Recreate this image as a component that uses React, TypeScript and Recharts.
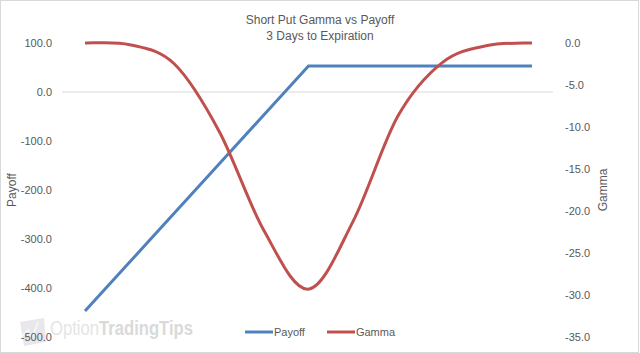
import React from "react";
import {
  ComposedChart,
  Line,
  XAxis,
  YAxis,
  ReferenceLine,
  Legend,
  Customized,
} from "recharts";

const strikes = [55, 56, 57, 58, 59, 60, 61, 62, 63, 64, 65];
const payoff = [-447, -347, -247, -147, -47, 53, 53, 53, 53, 53, 53];
const gamma = [0, -0.2, -2.5, -10.5, -22.3, -29.3, -21.2, -8.7, -2.3, -0.3, 0];

const leftTicks = [-500, -400, -300, -200, -100, 0, 100];
const rightTicks = [-35, -30, -25, -20, -15, -10, -5, 0];

const titleLines = ["Short Put Gamma vs Payoff", "3 Days to Expiration"];

const data = strikes.map((s, i) => ({ strike: s, Payoff: payoff[i], Gamma: gamma[i] }));

const W = 640;
const H = 353;
const MARGIN = { top: 43, right: 0, bottom: 16, left: 0 };
const PLOT_H = H - MARGIN.top - MARGIN.bottom;
const LEFT_MIN = -500;
const LEFT_MAX = 100;
const zeroY = MARGIN.top + (PLOT_H * (LEFT_MAX - 0)) / (LEFT_MAX - LEFT_MIN);

const FONT = "'Liberation Sans', Arial, sans-serif";
const TEXT = "#595959";
const BLUE = "#4f81bd";
const RED = "#c0504d";

// Excel-like smoothed line (uniform Catmull-Rom as cubic Bezier)
const smoothCurve: any = (context: any) => {
  let pts: number[][] = [];
  return {
    areaStart() {},
    areaEnd() {},
    lineStart() {
      pts = [];
    },
    point(x: number, y: number) {
      pts.push([+x, +y]);
    },
    lineEnd() {
      if (!pts.length) return;
      context.moveTo(pts[0][0], pts[0][1]);
      for (let i = 0; i < pts.length - 1; i++) {
        const p0 = pts[i - 1] || pts[i];
        const p1 = pts[i];
        const p2 = pts[i + 1];
        const p3 = pts[i + 2] || pts[i + 1];
        context.bezierCurveTo(
          p1[0] + (p2[0] - p0[0]) / 6,
          p1[1] + (p2[1] - p0[1]) / 6,
          p2[0] - (p3[0] - p1[0]) / 6,
          p2[1] - (p3[1] - p1[1]) / 6,
          p2[0],
          p2[1]
        );
      }
    },
  };
};

const XTick = (props: any) => {
  const { x, payload } = props;
  return (
    <text
      x={x}
      y={zeroY + 16}
      textAnchor="middle"
      dominantBaseline="central"
      fontSize={11}
      fontFamily={FONT}
      fill={TEXT}
    >
      {Number(payload.value).toFixed(1)}
    </text>
  );
};

const Title = () => (
  <g>
    <text x={W / 2} y={24} textAnchor="middle" fontSize={12} fontFamily={FONT} fill={TEXT}>
      {titleLines[0]}
    </text>
    <text x={W / 2} y={39.5} textAnchor="middle" fontSize={12} fontFamily={FONT} fill={TEXT}>
      {titleLines[1]}
    </text>
    <g opacity={0.9}>
      <path d="M20 322 L44 318 L46 342 L24 346 Z" fill="#e6e6ea" />
      <path d="M22 336 L28 330 L32 338 L38 322" stroke="#f4f4f6" strokeWidth={2} fill="none" />
      <text
        x={50}
        y={335}
        fontSize={20}
        fontFamily={FONT}
        textLength={143}
        lengthAdjust="spacingAndGlyphs"
      >
        <tspan fill="#e3e3e3">Option</tspan>
        <tspan fill="#d6d6d6" fontWeight="bold">TradingTips</tspan>
      </text>
    </g>
  </g>
);

const LegendContent = () => (
  <div
    style={{
      display: "flex",
      justifyContent: "center",
      alignItems: "center",
      fontFamily: FONT,
      fontSize: 11,
      color: TEXT,
      height: 14,
    }}
  >
    {[
      { name: "Payoff", color: BLUE },
      { name: "Gamma", color: RED },
    ].map((it, i) => (
      <div key={it.name} style={{ display: "flex", alignItems: "center", marginLeft: i ? 22 : 0 }}>
        <svg width={28} height={4} style={{ display: "block" }}>
          <line x1={0} y1={2} x2={28} y2={2} stroke={it.color} strokeWidth={3} />
        </svg>
        <span style={{ marginLeft: 1, lineHeight: "14px" }}>{it.name}</span>
      </div>
    ))}
  </div>
);

export default function App() {
  return (
    <div
      style={{
        position: "absolute",
        left: 0,
        top: 0,
        width: W,
        height: H,
        background: "#fff",
      }}
    >
      <div
        style={{
          position: "absolute",
          left: 0,
          top: 0,
          width: 639,
          height: 353,
          boxSizing: "border-box",
          border: "1px solid #d9d9d9",
        }}
      />
      <ComposedChart width={W} height={H} data={data} margin={MARGIN}>
        <XAxis
          dataKey="strike"
          type="category"
          scale="point"
          padding={{ left: 23, right: 21 }}
          height={0}
          axisLine={false}
          tickLine={false}
          tick={<XTick />}
          interval={0}
        />
        <YAxis
          yAxisId="left"
          domain={[LEFT_MIN, LEFT_MAX]}
          ticks={leftTicks}
          width={62}
          axisLine={false}
          tickLine={false}
          tickMargin={4}
          tickFormatter={(v: number) => v.toFixed(1)}
          tick={{ fontSize: 11, fontFamily: FONT, fill: TEXT }}
          label={{
            value: "Payoff",
            angle: -90,
            position: "center",
            dx: -19,
            style: { fontSize: 12, fontFamily: FONT, fill: TEXT },
          }}
        />
        <YAxis
          yAxisId="right"
          orientation="right"
          domain={[-35, 0]}
          ticks={rightTicks}
          width={87}
          axisLine={false}
          tickLine={false}
          tickMargin={6}
          tickFormatter={(v: number) => v.toFixed(1)}
          tick={{ fontSize: 11, fontFamily: FONT, fill: TEXT }}
          label={{
            value: "Gamma",
            angle: -90,
            position: "center",
            dx: 6.5,
            style: { fontSize: 12, fontFamily: FONT, fill: TEXT },
          }}
        />
        <ReferenceLine yAxisId="left" y={0} stroke="#d9d9d9" strokeWidth={1} />
        <Customized component={<Title />} />
        <Line
          yAxisId="left"
          type="linear"
          dataKey="Payoff"
          stroke={BLUE}
          strokeWidth={3}
          dot={false}
          isAnimationActive={false}
        />
        <Line
          yAxisId="right"
          type={smoothCurve}
          dataKey="Gamma"
          stroke={RED}
          strokeWidth={3}
          dot={false}
          isAnimationActive={false}
        />
        <Legend
          verticalAlign="middle"
          align="center"
          layout="horizontal"
          wrapperStyle={{ top: 325, left: 0, width: W }}
          content={<LegendContent />}
        />
      </ComposedChart>
    </div>
  );
}
